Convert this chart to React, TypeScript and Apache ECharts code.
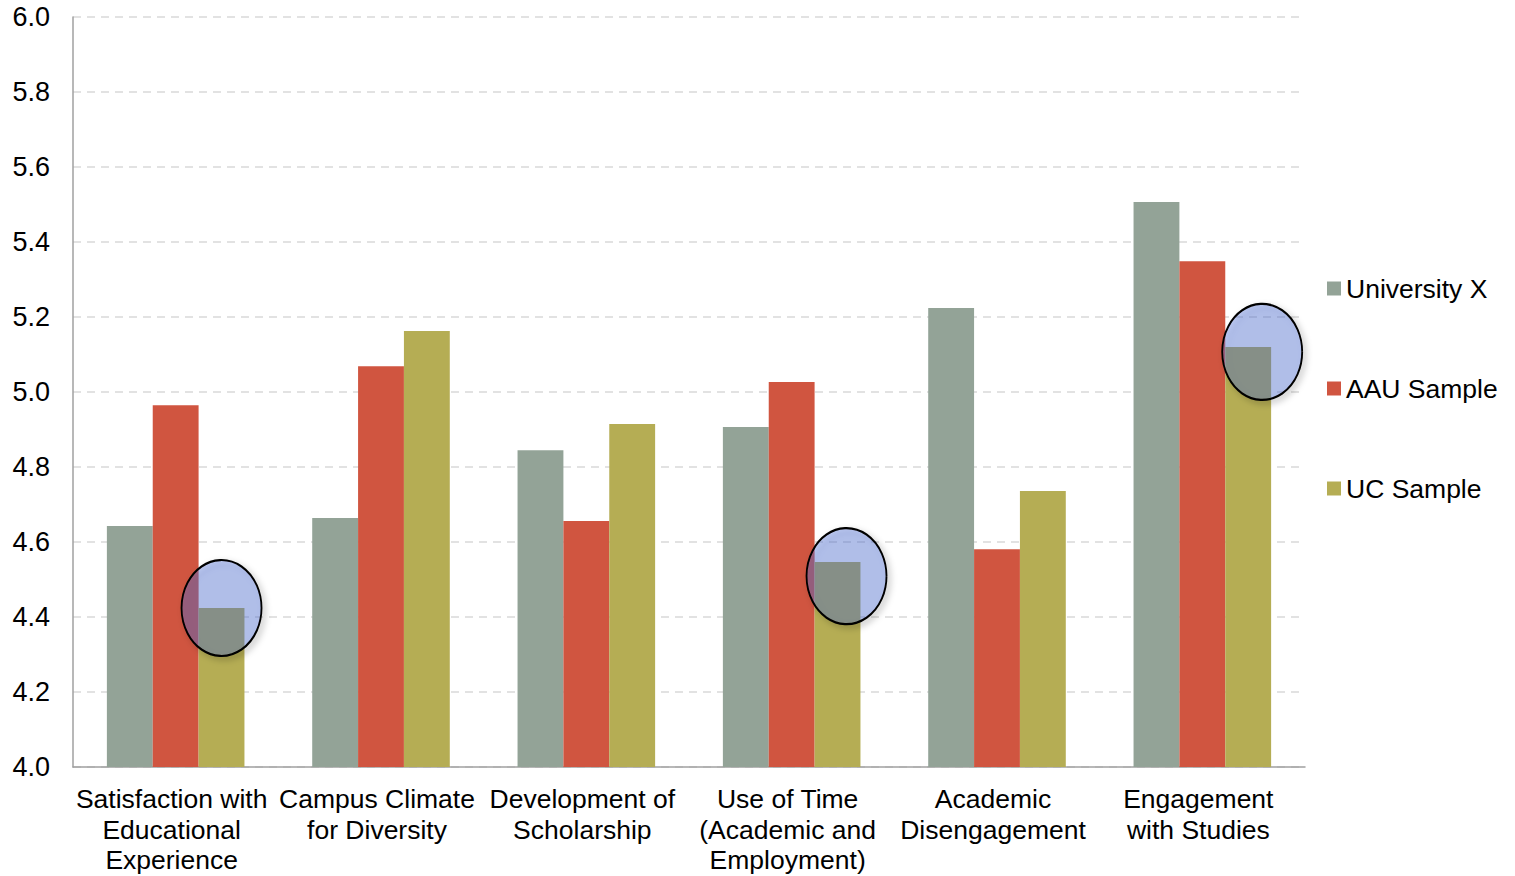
import React, { useEffect, useRef } from "react";
import * as echarts from "echarts";

const categories = [
  "Satisfaction with\nEducational\nExperience",
  "Campus Climate\nfor Diversity",
  "Development of\nScholarship",
  "Use of Time\n(Academic and\nEmployment)",
  "Academic\nDisengagement",
  "Engagement\nwith Studies",
];
const seriesNames = ["University X", "AAU Sample", "UC Sample"];
const universityX = [4.643, 4.664, 4.845, 4.907, 5.224, 5.507];
const aauSample = [4.965, 5.069, 4.656, 5.027, 4.581, 5.349];
const ucSample = [4.424, 5.163, 4.915, 4.547, 4.736, 5.12];
const highlightIdx = [0, 3, 5];
const highlightCenter = [4.424, 4.509, 5.107];
const yTicks = { min: 4.0, max: 6.0, interval: 0.2 };

const colors = ["#93a397", "#d05540", "#b5ad54"];
const ringOffsets = [[0, 0], [9, 0], [14, 0]];

export default function App() {
  const ref = useRef<HTMLDivElement>(null);
  useEffect(() => {
    if (!ref.current) return;
    const chart = echarts.init(ref.current, undefined, { renderer: "svg" });
    const font = "'Liberation Sans', Arial, sans-serif";
    const mk = (name: string, data: number[], color: string, extra: any = {}) => ({
      name,
      type: "bar",
      data,
      barGap: "0%",
      barCategoryGap: "33%",
      itemStyle: { color },
      ...extra,
    });
    chart.setOption({
      animation: false,
      textStyle: { fontFamily: font },
      grid: {
        left: 73,
        right: 210,
        top: 17,
        bottom: 109,
        containLabel: false,
        outerBoundsMode: "none",
      },
      legend: {
        orient: "vertical",
        left: 1322,
        top: 270,
        itemWidth: 14,
        itemHeight: 14,
        itemGap: 73,
        icon: "rect",
        textStyle: { fontSize: 26.5, color: "#000", fontFamily: font },
        data: seriesNames,
      },
      xAxis: {
        type: "category",
        data: categories,
        axisLine: { show: true, lineStyle: { color: "#a0a0a0", width: 1.5 } },
        axisTick: { show: false },
        axisLabel: {
          interval: 0,
          fontSize: 26.5,
          lineHeight: 30.5,
          color: "#000",
          margin: 17,
          padding: [0, 8, 0, 0],
          fontFamily: font,
        },
      },
      yAxis: {
        type: "value",
        min: yTicks.min,
        max: yTicks.max,
        interval: yTicks.interval,
        axisLine: { show: true, lineStyle: { color: "#a0a0a0", width: 1.5 } },
        axisTick: { show: false },
        axisLabel: {
          fontSize: 27,
          color: "#000",
          margin: 23,
          fontFamily: font,
          formatter: (v: number) => v.toFixed(1),
        },
        splitLine: { show: true, lineStyle: { color: "#d9d9d9", type: [8, 6], width: 1.5 } },
      },
      series: [
        mk(seriesNames[0], universityX, colors[0]),
        mk(seriesNames[1], aauSample, colors[1]),
        mk(seriesNames[2], ucSample, colors[2], {
          markPoint: {
            symbol: "circle",
            symbolSize: [80, 96],
            label: { show: false },
            itemStyle: {
              color: "rgba(80,110,220,0.36)",
              borderColor: "#000",
              borderWidth: 2,
              shadowBlur: 6,
              shadowOffsetX: 3,
              shadowOffsetY: 3,
              shadowColor: "rgba(0,0,0,0.3)",
            },
            data: highlightIdx.map((i, k) => ({
              coord: [i, highlightCenter[k]],
              symbolOffset: ringOffsets[k],
            })),
          },
        }),
      ],
    });
    return () => chart.dispose();
  }, []);
  return (
    <div
      ref={ref}
      style={{ position: "absolute", left: 0, top: 0, width: 1515, height: 876 }}
    />
  );
}
